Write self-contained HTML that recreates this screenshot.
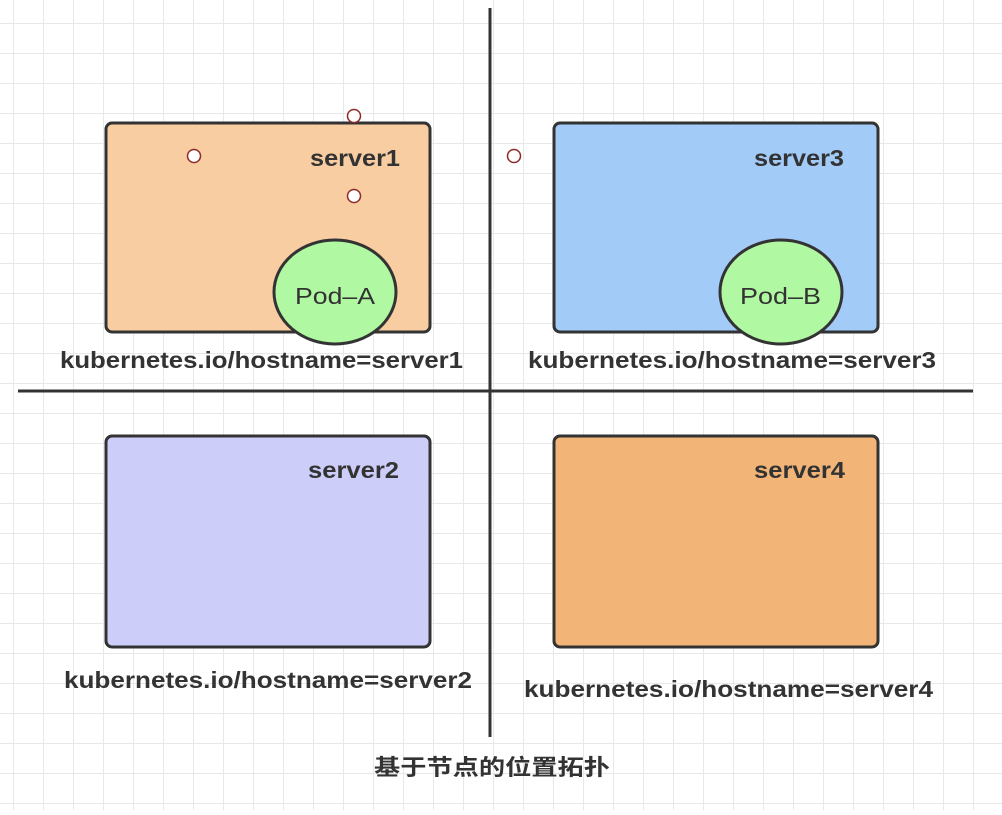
<!DOCTYPE html>
<html><head><meta charset="utf-8"><style>
body{margin:0;width:1002px;height:810px;overflow:hidden;background:#fff;}
svg text{font-family:"Liberation Sans","Noto Sans CJK SC",sans-serif;fill:#333;}
</style></head><body>
<svg width="1002" height="810" xmlns="http://www.w3.org/2000/svg">
<defs><pattern id="g" x="13" y="23" width="30" height="30" patternUnits="userSpaceOnUse">
<path d="M0 0H30M0 0V30" stroke="#e8e8e8" stroke-width="2" fill="none"/></pattern></defs>
<rect width="1002" height="810" fill="url(#g)"/>
<line x1="490" y1="8" x2="490" y2="737" stroke="#333" stroke-width="3"/>
<line x1="18" y1="391" x2="973" y2="391" stroke="#333" stroke-width="3"/>
<g stroke="#333" stroke-width="3">
<rect x="106" y="123" width="324" height="209" rx="6" fill="#f8cda1"/>
<rect x="554" y="123" width="324" height="209" rx="6" fill="#a2cbf8"/>
<rect x="106" y="436" width="324" height="211" rx="6" fill="#cccdf8"/>
<rect x="554" y="436" width="324" height="211" rx="6" fill="#f3b577"/>
<ellipse cx="335" cy="292" rx="61" ry="52" fill="#b0f8a2"/>
<ellipse cx="781" cy="292" rx="61" ry="52" fill="#b0f8a2"/>
</g>
<g fill="#fff" stroke="#8b2a2a" stroke-width="1.5">
<circle cx="354" cy="116" r="6.5"/><circle cx="194" cy="156" r="6.5"/>
<circle cx="354" cy="196" r="6.5"/><circle cx="514" cy="156" r="6.5"/>
</g>
<g font-size="23" font-weight="bold" lengthAdjust="spacingAndGlyphs">
<text x="310" y="166" textLength="90" lengthAdjust="spacingAndGlyphs">server1</text>
<text x="754" y="166" textLength="90" lengthAdjust="spacingAndGlyphs">server3</text>
<text x="308" y="478" textLength="91" lengthAdjust="spacingAndGlyphs">server2</text>
<text x="754" y="478" textLength="91" lengthAdjust="spacingAndGlyphs">server4</text>
<text x="60" y="368" textLength="403" lengthAdjust="spacingAndGlyphs">kubernetes.io/hostname=server1</text>
<text x="528" y="368" textLength="408" lengthAdjust="spacingAndGlyphs">kubernetes.io/hostname=server3</text>
<text x="64" y="688" textLength="408" lengthAdjust="spacingAndGlyphs">kubernetes.io/hostname=server2</text>
<text x="524" y="697" textLength="409" lengthAdjust="spacingAndGlyphs">kubernetes.io/hostname=server4</text>
<text x="374" y="775" font-size="22" textLength="236" lengthAdjust="spacingAndGlyphs">基于节点的位置拓扑</text>
</g>
<text x="295" y="304" font-size="23" textLength="80" lengthAdjust="spacingAndGlyphs">Pod–A</text>
<text x="740" y="304" font-size="23" textLength="81" lengthAdjust="spacingAndGlyphs">Pod–B</text>
</svg>
</body></html>
